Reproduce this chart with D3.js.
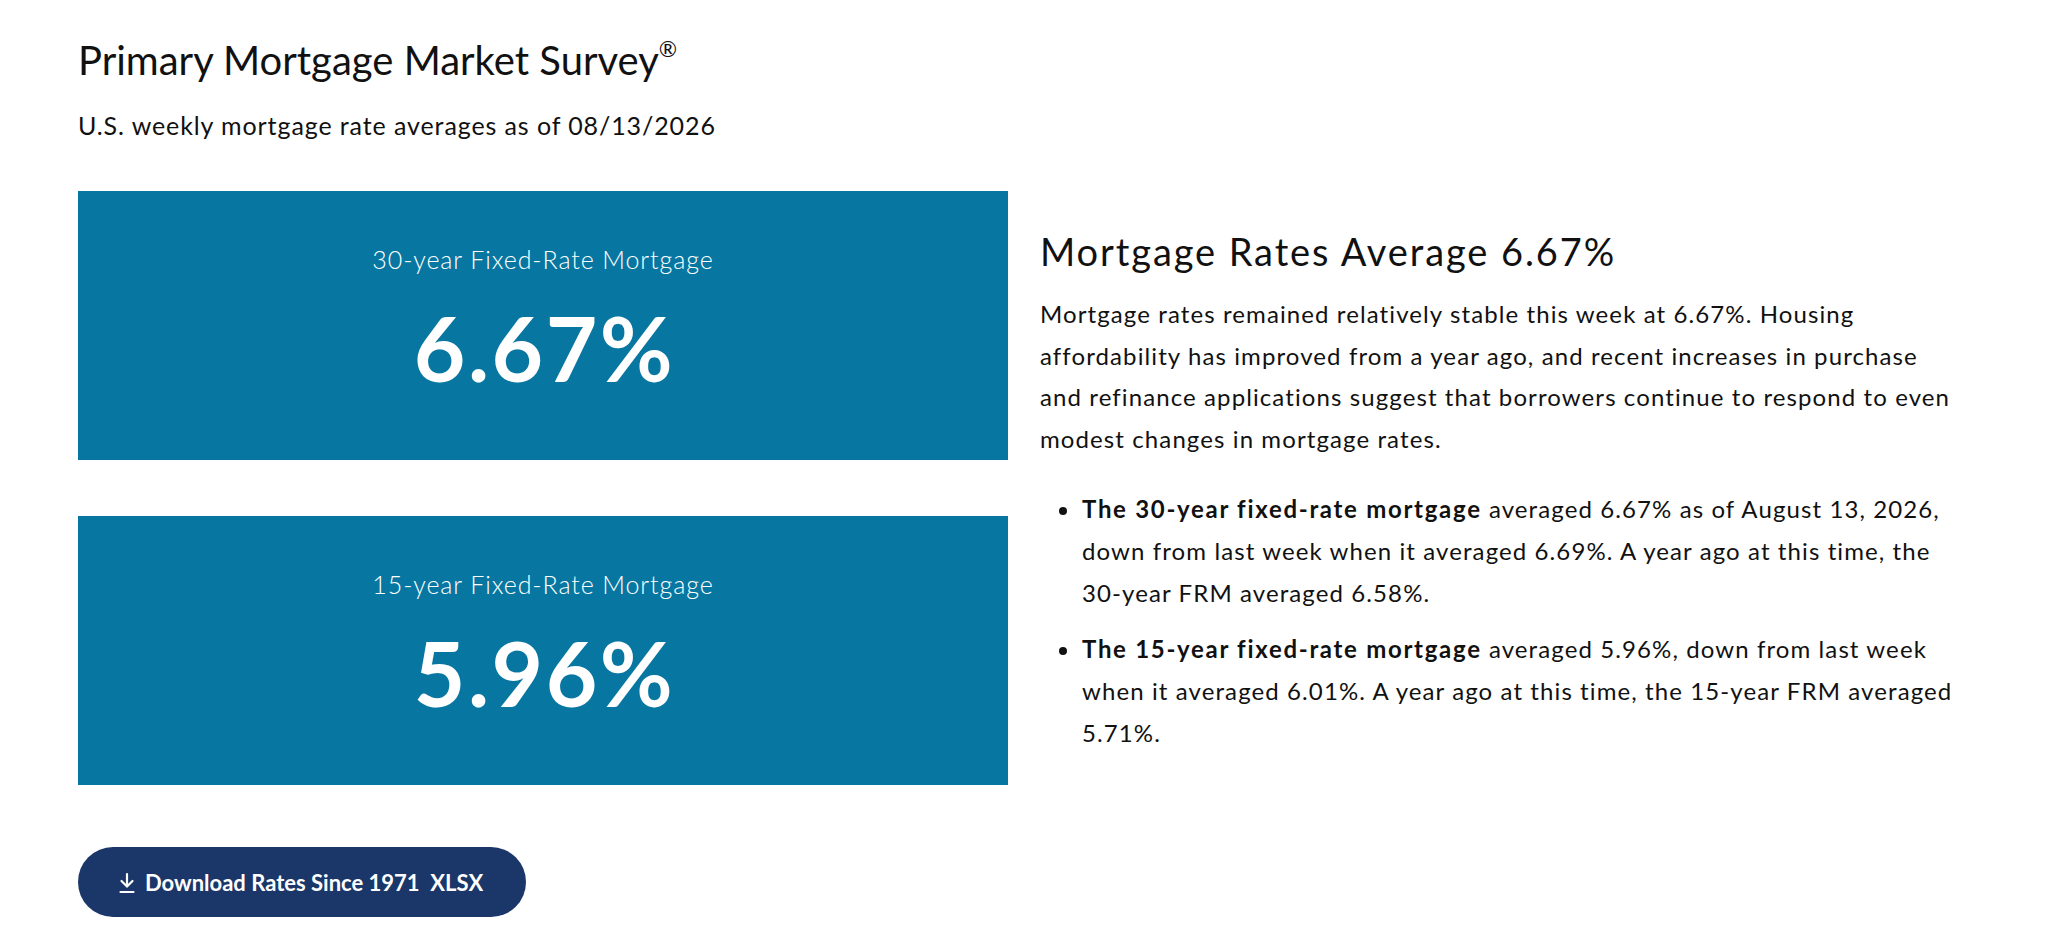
<!DOCTYPE html>
<html>
<head>
<meta charset="utf-8">
<script src="https://cdn.jsdelivr.net/npm/d3@7"></script>
<style>
  body { margin: 0; background: #fff; }
  svg text { font-family: Lato, "Open Sans", sans-serif; }
</style>
</head>
<body>
<div id="chart"></div>
<script>
const W = 2048,
  H = 947;
const BLUE = "#0777a2",
  NAVY = "#1b3668",
  INK = "#111";

// data
const title = "Primary Mortgage Market Survey";
const asOf = "08/13/2026";
const products = ["30-year Fixed-Rate Mortgage", "15-year Fixed-Rate Mortgage"];
const rates = [6.67, 5.96];
const heading = "Mortgage Rates Average 6.67%";
const summaryLines = [
  "Mortgage rates remained relatively stable this week at 6.67%. Housing",
  "affordability has improved from a year ago, and recent increases in purchase",
  "and refinance applications suggest that borrowers continue to respond to even",
  "modest changes in mortgage rates.",
];
const bulletBold = ["The 30-year fixed-rate mortgage", "The 15-year fixed-rate mortgage"];
const bulletLines = [
  [
    " averaged 6.67% as of August 13, 2026,",
    "down from last week when it averaged 6.69%. A year ago at this time, the",
    "30-year FRM averaged 6.58%.",
  ],
  [
    " averaged 5.96%, down from last week",
    "when it averaged 6.01%. A year ago at this time, the 15-year FRM averaged",
    "5.71%.",
  ],
];
const buttonLabel = "Download Rates Since 1971\u00a0\u00a0XLSX";

const svg = d3
  .select("#chart")
  .append("svg")
  .attr("width", W)
  .attr("height", H);

// header
const head = svg.append("text").attr("x", 78).attr("y", 75).attr("fill", INK)
  .attr("font-size", 40).attr("font-weight", 400);
head.append("tspan").text(title);
head.append("tspan").attr("font-size", 22).attr("dy", -18).text("\u00ae");

svg.append("text").attr("x", 78).attr("y", 135).attr("fill", INK)
  .attr("font-size", 25).attr("letter-spacing", 0.9)
  .text(`U.S. weekly mortgage rate averages as of ${asOf}`);

// rate boxes
const yBox = d3.scaleBand().domain(products).range([191, 785]).paddingInner(0.1723);
const xBox = d3.scaleLinear().domain([0, 1]).range([78, 1008]);
const fmt = d3.format(".2f");

const box = svg.selectAll("g.box").data(products).join("g")
  .attr("class", "box")
  .attr("transform", (d) => `translate(0,${yBox(d)})`);

box.append("rect")
  .attr("x", xBox(0))
  .attr("width", xBox(1) - xBox(0))
  .attr("height", yBox.bandwidth())
  .attr("fill", BLUE);

box.append("text")
  .attr("x", xBox(0.5))
  .attr("y", 78)
  .attr("text-anchor", "middle")
  .attr("fill", "#fff")
  .attr("font-size", 25)
  .attr("font-weight", 300)
  .attr("letter-spacing", 0.9)
  .text((d) => d);

box.append("text")
  .attr("x", xBox(0.5) + 1.5)
  .attr("y", 191)
  .attr("text-anchor", "middle")
  .attr("fill", "#fff")
  .attr("font-size", 89)
  .attr("font-weight", 700)
  .attr("letter-spacing", 2.5)
  .text((d, i) => fmt(rates[i]) + "%");

// commentary
const TX = 1040;
svg.append("text").attr("x", TX).attr("y", 266).attr("fill", INK)
  .attr("font-size", 38).attr("letter-spacing", 1.9).text(heading);

svg.append("g").selectAll("text").data(summaryLines).join("text")
  .attr("x", TX)
  .attr("y", (d, i) => 323 + i * 41.5)
  .attr("fill", INK)
  .attr("font-size", 24)
  .attr("letter-spacing", 1.1)
  .text((d) => d);

const bulletTop = [518, 658];
bulletLines.forEach((lines, b) => {
  const g = svg.append("g");
  g.append("circle").attr("cx", 1063).attr("cy", bulletTop[b] - 7).attr("r", 4).attr("fill", INK);
  g.selectAll("text").data(lines).join("text")
    .attr("x", 1082)
    .attr("y", (d, i) => bulletTop[b] + i * 42)
    .attr("fill", INK)
    .attr("font-size", 24)
    .attr("letter-spacing", 1.1)
    .each(function (d, i) {
      const t = d3.select(this);
      if (i === 0) t.append("tspan").attr("font-weight", 700).attr("letter-spacing", 1.7).text(bulletBold[b]);
      t.append("tspan").text(d);
    });
});

// download button
const btn = svg.append("g").attr("transform", "translate(78,847)");
btn.append("rect").attr("width", 448).attr("height", 70).attr("rx", 35).attr("fill", NAVY);
const icon = btn.append("g").attr("transform", "translate(42,27)")
  .attr("stroke", "#fff").attr("stroke-width", 2.2).attr("fill", "none").attr("stroke-linecap", "round");
icon.append("path").attr("d", "M7,0 V12 M1.5,7 L7,12.5 L12.5,7");
icon.append("path").attr("d", "M0.5,18 H13.5");
btn.append("text").attr("x", 67).attr("y", 44).attr("fill", "#fff")
  .attr("font-size", 22).attr("font-weight", 700).text(buttonLabel);
</script>
</body>
</html>
